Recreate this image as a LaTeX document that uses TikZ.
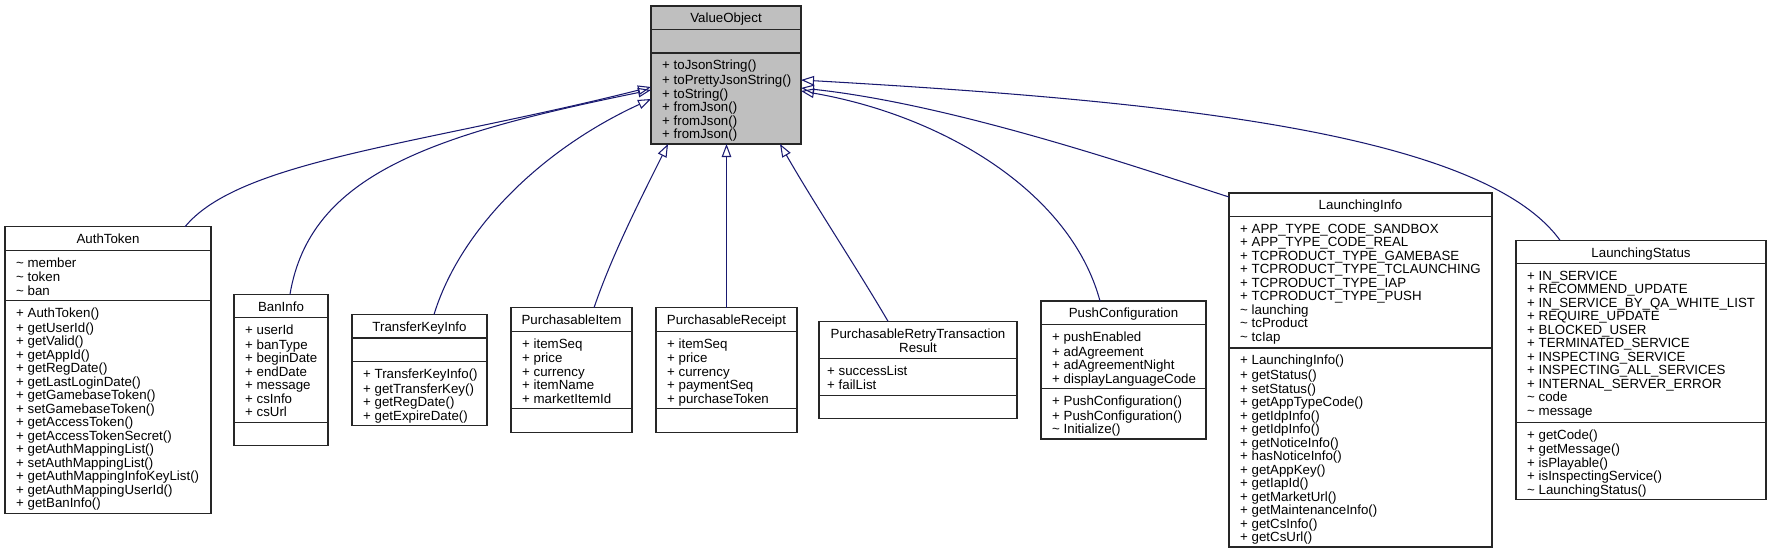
\documentclass[tikz,border=0pt]{standalone}
\usepackage{fontspec}
\setmainfont{Liberation Sans}
\usetikzlibrary{arrows.meta,calc}
\definecolor{navy}{HTML}{191970}
\definecolor{voGray}{HTML}{BFBFBF}
\newcommand\umlfont{\fontsize{13.3}{13.5}\selectfont}
\newcommand\ttil{\textasciitilde}
\begin{document}
\begin{tikzpicture}[x=1pt,y=-1pt,
  cls/.style={draw=black!85, line width=1.1pt, fill=white, inner sep=0pt, outer sep=0pt, anchor=north west},
  sepl/.style={draw=black!85, line width=1.1pt},
  txt/.style={inner sep=0pt, anchor=north west, align=left, font=\umlfont},
  ttl/.style={inner sep=0pt, anchor=north, align=center, font=\umlfont},
  inh/.style={draw=navy, line width=1.05pt, -{Triangle[open, length=13pt, width=9.5pt]}}]
\useasboundingbox (0,0) rectangle (1771,552);

% ValueObject
\node[cls, fill=voGray, minimum width=150pt, minimum height=138pt] (vo) at (651,6) {};
\draw[sepl] ($(vo.north west)+(0,23.5)$) -- ($(vo.north east)+(0,23.5)$);
\draw[sepl] ($(vo.north west)+(0,47)$) -- ($(vo.north east)+(0,47)$);
\node[ttl] (voT) at ($(vo.north)+(0,7)$) {\strut ValueObject};
\node[txt] (voM) at ($(vo.north west)+(11,54)$) {\strut + toJsonString()\\+ toPrettyJsonString()\\+ toString()\\+ fromJson()\\+ fromJson()\\+ fromJson()};

% AuthToken
\node[cls, minimum width=206pt, minimum height=286.5pt] (auth) at (5,226.75) {};
\draw[sepl] ($(auth.north west)+(0,23.5)$) -- ($(auth.north east)+(0,23.5)$);
\draw[sepl] ($(auth.north west)+(0,74)$) -- ($(auth.north east)+(0,74)$);
\node[ttl] (authT) at ($(auth.north)+(0,7)$) {\strut AuthToken};
\node[txt] (authA) at ($(auth.north west)+(11,30.5)$) {\strut \ttil\ member\\\ttil\ token\\\ttil\ ban};
\node[txt] (authM) at ($(auth.north west)+(11,81)$) {\strut + AuthToken()\\+ getUserId()\\+ getValid()\\+ getAppId()\\+ getRegDate()\\+ getLastLoginDate()\\+ getGamebaseToken()\\+ setGamebaseToken()\\+ getAccessToken()\\+ getAccessTokenSecret()\\+ getAuthMappingList()\\+ setAuthMappingList()\\+ getAuthMappingInfoKeyList()\\+ getAuthMappingUserId()\\+ getBanInfo()};

% BanInfo
\node[cls, minimum width=94pt, minimum height=151.5pt] (ban) at (234,294.25) {};
\draw[sepl] ($(ban.north west)+(0,23.5)$) -- ($(ban.north east)+(0,23.5)$);
\draw[sepl] ($(ban.north west)+(0,128)$) -- ($(ban.north east)+(0,128)$);
\node[ttl] (banT) at ($(ban.north)+(0,7)$) {\strut BanInfo};
\node[txt] (banA) at ($(ban.north west)+(11,30.5)$) {\strut + userId\\+ banType\\+ beginDate\\+ endDate\\+ message\\+ csInfo\\+ csUrl};

% TransferKeyInfo
\node[cls, minimum width=135pt, minimum height=111pt] (tki) at (352,314.5) {};
\draw[sepl] ($(tki.north west)+(0,23.5)$) -- ($(tki.north east)+(0,23.5)$);
\draw[sepl] ($(tki.north west)+(0,47)$) -- ($(tki.north east)+(0,47)$);
\node[ttl] (tkiT) at ($(tki.north)+(0,7)$) {\strut TransferKeyInfo};
\node[txt] (tkiM) at ($(tki.north west)+(11,54)$) {\strut + TransferKeyInfo()\\+ getTransferKey()\\+ getRegDate()\\+ getExpireDate()};

% PurchasableItem
\node[cls, minimum width=121pt, minimum height=124.5pt] (pi) at (511,307.75) {};
\draw[sepl] ($(pi.north west)+(0,23.5)$) -- ($(pi.north east)+(0,23.5)$);
\draw[sepl] ($(pi.north west)+(0,101)$) -- ($(pi.north east)+(0,101)$);
\node[ttl] (piT) at ($(pi.north)+(0,7)$) {\strut PurchasableItem};
\node[txt] (piA) at ($(pi.north west)+(11,30.5)$) {\strut + itemSeq\\+ price\\+ currency\\+ itemName\\+ marketItemId};

% PurchasableReceipt
\node[cls, minimum width=141pt, minimum height=124.5pt] (pr) at (656,307.75) {};
\draw[sepl] ($(pr.north west)+(0,23.5)$) -- ($(pr.north east)+(0,23.5)$);
\draw[sepl] ($(pr.north west)+(0,101)$) -- ($(pr.north east)+(0,101)$);
\node[ttl] (prT) at ($(pr.north)+(0,7)$) {\strut PurchasableReceipt};
\node[txt] (prA) at ($(pr.north west)+(11,30.5)$) {\strut + itemSeq\\+ price\\+ currency\\+ paymentSeq\\+ purchaseToken};

% PurchasableRetryTransactionResult
\node[cls, minimum width=198pt, minimum height=97.5pt] (prtr) at (819,321.25) {};
\draw[sepl] ($(prtr.north west)+(0,37)$) -- ($(prtr.north east)+(0,37)$);
\draw[sepl] ($(prtr.north west)+(0,74)$) -- ($(prtr.north east)+(0,74)$);
\node[ttl] (prtrT) at ($(prtr.north)+(0,7)$) {\strut PurchasableRetryTransaction\\Result};
\node[txt] (prtrA) at ($(prtr.north west)+(8,44)$) {\strut + successList\\+ failList};

% PushConfiguration
\node[cls, minimum width=165pt, minimum height=138pt] (pc) at (1041,301) {};
\draw[sepl] ($(pc.north west)+(0,23.5)$) -- ($(pc.north east)+(0,23.5)$);
\draw[sepl] ($(pc.north west)+(0,87.5)$) -- ($(pc.north east)+(0,87.5)$);
\node[ttl] (pcT) at ($(pc.north)+(0,7)$) {\strut PushConfiguration};
\node[txt] (pcA) at ($(pc.north west)+(11,30.5)$) {\strut + pushEnabled\\+ adAgreement\\+ adAgreementNight\\+ displayLanguageCode};
\node[txt] (pcM) at ($(pc.north west)+(11,94.5)$) {\strut + PushConfiguration()\\+ PushConfiguration()\\\ttil\ Initialize()};

% LaunchingInfo
\node[cls, minimum width=263pt, minimum height=354pt] (li) at (1229,193) {};
\draw[sepl] ($(li.north west)+(0,23.5)$) -- ($(li.north east)+(0,23.5)$);
\draw[sepl] ($(li.north west)+(0,155)$) -- ($(li.north east)+(0,155)$);
\node[ttl] (liT) at ($(li.north)+(0,7)$) {\strut LaunchingInfo};
\node[txt] (liA) at ($(li.north west)+(11,30.5)$) {\strut + APP\_TYPE\_CODE\_SANDBOX\\+ APP\_TYPE\_CODE\_REAL\\+ TCPRODUCT\_TYPE\_GAMEBASE\\+ TCPRODUCT\_TYPE\_TCLAUNCHING\\+ TCPRODUCT\_TYPE\_IAP\\+ TCPRODUCT\_TYPE\_PUSH\\\ttil\ launching\\\ttil\ tcProduct\\\ttil\ tcIap};
\node[txt] (liM) at ($(li.north west)+(11,162)$) {\strut + LaunchingInfo()\\+ getStatus()\\+ setStatus()\\+ getAppTypeCode()\\+ getIdpInfo()\\+ getIdpInfo()\\+ getNoticeInfo()\\+ hasNoticeInfo()\\+ getAppKey()\\+ getIapId()\\+ getMarketUrl()\\+ getMaintenanceInfo()\\+ getCsInfo()\\+ getCsUrl()};

% LaunchingStatus
\node[cls, minimum width=250pt, minimum height=259.5pt] (ls) at (1516,240.25) {};
\draw[sepl] ($(ls.north west)+(0,23.5)$) -- ($(ls.north east)+(0,23.5)$);
\draw[sepl] ($(ls.north west)+(0,182)$) -- ($(ls.north east)+(0,182)$);
\node[ttl] (lsT) at ($(ls.north)+(0,7)$) {\strut LaunchingStatus};
\node[txt] (lsA) at ($(ls.north west)+(11,30.5)$) {\strut + IN\_SERVICE\\+ RECOMMEND\_UPDATE\\+ IN\_SERVICE\_BY\_QA\_WHITE\_LIST\\+ REQUIRE\_UPDATE\\+ BLOCKED\_USER\\+ TERMINATED\_SERVICE\\+ INSPECTING\_SERVICE\\+ INSPECTING\_ALL\_SERVICES\\+ INTERNAL\_SERVER\_ERROR\\\ttil\ code\\\ttil\ message};
\node[txt] (lsM) at ($(ls.north west)+(11,189)$) {\strut + getCode()\\+ getMessage()\\+ isPlayable()\\+ isInspectingService()\\\ttil\ LaunchingStatus()};

% inheritance edges
\draw[inh] ($(auth.north west)+(180,0)$) .. controls (240,160) and (420,145) .. ($(vo.north west)+(0,81)$);
\draw[inh] ($(ban.north west)+(56,0)$) .. controls (310,175) and (430,135) .. ($(vo.north west)+(0,84)$);
\draw[inh] ($(tki.north west)+(82,0)$) .. controls (460,230) and (540,150) .. ($(vo.north west)+(0,93)$);
\draw[inh] ($(pi.north west)+(83,0)$) .. controls (612,255) and (640,200) .. ($(vo.south west)+(17,0)$);
\draw[inh] (pr.north) -- (pr.north |- vo.south);
\draw[inh] ($(prtr.north west)+(69,0)$) .. controls (855,265) and (815,205) .. ($(vo.south west)+(129,0)$);
\draw[inh] ($(pc.north west)+(59,0)$) .. controls (1070,190) and (940,115) .. ($(vo.north east)+(0,85)$);
\draw[inh] ($(li.north west)+(0,4)$) .. controls (1160,175) and (960,105) .. ($(vo.north east)+(0,82)$);
\draw[inh] ($(ls.north west)+(44,0)$) .. controls (1480,130) and (1150,100) .. ($(vo.north east)+(0,74)$);
\end{tikzpicture}
\end{document}
